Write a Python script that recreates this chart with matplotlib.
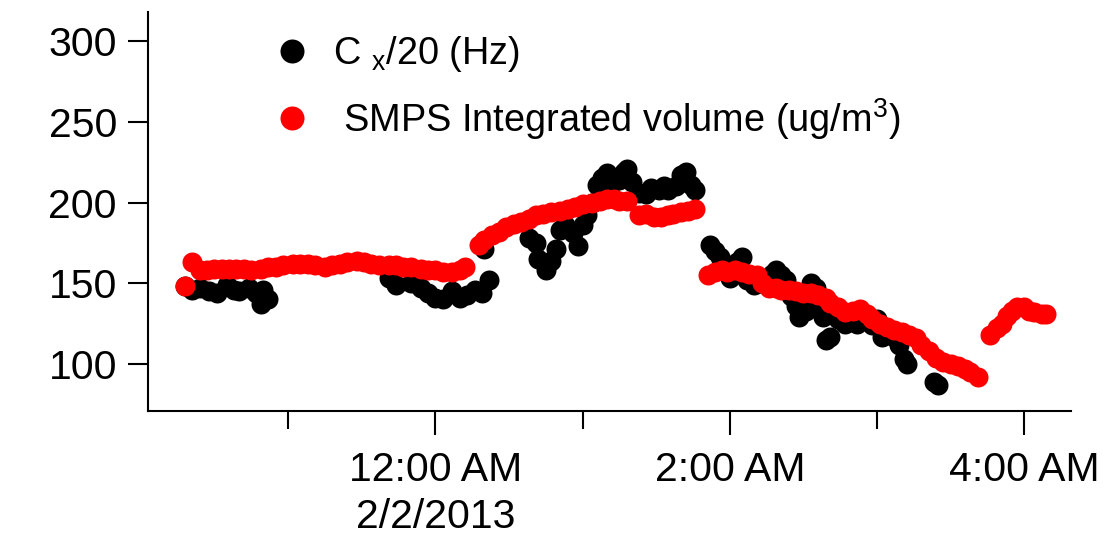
import datetime as dt
import matplotlib
matplotlib.use("Agg")
import matplotlib.pyplot as plt
import matplotlib.dates as mdates
from matplotlib.ticker import FuncFormatter

plt.rcParams["font.family"] = ["Liberation Sans", "DejaVu Sans"]
plt.rcParams["mathtext.fontset"] = "custom"
plt.rcParams["mathtext.rm"] = "Liberation Sans"
plt.rcParams["mathtext.it"] = "Liberation Sans"

# minutes after midnight of 2/2/2013
cx_minutes = [-102, -99, -96, -92, -89, -85, -82, -80, -76, -73, -71, -70, -68,
              -19, -16, -10, -6, -3, 0, 3, 7, 10, 13, 16, 19, 20, 22,
              38, 41, 42, 45, 47, 49, 51, 53, 56, 58, 60, 62, 64, 66, 68, 70,
              72, 75, 77, 78, 80, 83, 86, 88, 91, 93, 95, 98, 100, 102, 104, 106,
              112, 114, 116, 118, 120, 123, 125, 127, 130, 132, 135, 137, 139,
              141, 143, 145, 147, 148, 151, 153, 155, 156, 158, 159, 161, 164,
              167, 170, 172, 175, 178, 180, 182, 185, 187, 189, 191, 192, 203, 205]
cx_values = [148, 146, 147, 145, 144, 149, 146, 145, 147, 144, 137, 146, 140,
             153, 149, 150, 147, 144, 141, 140, 145, 141, 143, 146, 144, 171, 152,
             178, 175, 165, 158, 164, 171, 183, 186, 181, 173, 186, 192, 200, 211, 215, 218,
             212, 214, 219, 221, 213, 206, 205, 209, 208, 210, 208, 210, 217, 219, 211, 208,
             174, 170, 166, 160, 153, 163, 166, 152, 149, 150, 152, 156, 158,
             155, 152, 142, 136, 129, 133, 150, 147, 138, 129, 115, 117, 128,
             125, 129, 125, 127, 124, 128, 117, 121, 117, 112, 103, 100, 89, 87]

smps_minutes = [-102, -99, -96, -93, -90, -87, -84, -81, -78, -75, -71, -68, -65,
                -62, -58, -55, -52, -49, -45, -42, -39, -36, -32, -29, -26, -23,
                -19, -16, -13, -10, -6, -3, 0, 3, 7, 10, 12,
                18, 20, 23, 26, 29, 32, 35, 38, 41, 44, 47, 51, 54, 57, 60, 64,
                67, 70, 73, 75, 78, 83, 86, 89, 92, 95, 97, 100, 103, 106,
                111, 114, 117, 119, 122, 125, 128, 131, 133, 136, 139, 141, 144,
                147, 150, 153, 156, 159, 161, 164, 167, 170, 173, 176, 178, 181,
                184, 187, 190, 193, 196, 198, 201, 204, 207, 210, 213, 216, 218, 221,
                226, 229, 231, 233, 235, 237, 240, 242, 244, 247, 249]
smps_values = [148, 163, 158, 158, 159, 159, 159, 159, 159, 158, 159, 160, 160,
               161, 162, 162, 162, 161, 160, 161, 162, 163, 164, 163, 162, 161,
               161, 161, 160, 160, 159, 158, 158, 157, 157, 158, 160,
               174, 177, 180, 182, 185, 187, 188, 190, 192, 193, 194, 195, 196, 197, 199, 200,
               201, 202, 202, 201, 201, 192, 193, 191, 191, 192, 193, 194, 195, 196,
               155, 157, 158, 157, 158, 157, 156, 155, 150, 147, 147, 146, 146,
               145, 144, 144, 143, 141, 138, 135, 132, 133, 134, 131, 128, 125,
               123, 121, 120, 118, 116, 112, 108, 104, 101, 100, 99, 97, 95, 92,
               118, 122, 125, 130, 133, 135, 135, 133, 132, 131, 131]

base = dt.datetime(2013, 2, 2)


def to_time(mins):
    return [base + dt.timedelta(minutes=m) for m in mins]


fig = plt.figure(figsize=(11.09, 5.35), dpi=100)
ax = fig.add_axes([0.1335, 0.2318, 0.8322, 0.7458])

cx_line, = ax.plot(to_time(cx_minutes), cx_values, "o", color="black",
                   ms=14.4, mew=0, label="C $_x$/20 (Hz)")
smps_line, = ax.plot(to_time(smps_minutes), smps_values, "o", color="#ff0000",
                     ms=14.4, mew=0, label=" SMPS Integrated volume (ug/m$^3$)")

ax.set_xlim(base - dt.timedelta(minutes=117), base + dt.timedelta(minutes=259))
ax.set_ylim(70.9, 318)
ax.set_yticks([100, 150, 200, 250, 300])

ax.xaxis.set_major_locator(mdates.HourLocator(byhour=[0, 2, 4]))
ax.xaxis.set_minor_locator(mdates.HourLocator(byhour=[23, 1, 3]))


def fmt_time(x, pos):
    d = mdates.num2date(x)
    txt = "%d:00 %s" % ((d.hour % 12) or 12, "AM" if d.hour < 12 else "PM")
    if d.hour == 0:
        txt += "\n%d/%d/%d" % (d.month, d.day, d.year)
    return txt


ax.xaxis.set_major_formatter(FuncFormatter(fmt_time))

for s in ["top", "right"]:
    ax.spines[s].set_visible(False)
for s in ["left", "bottom"]:
    ax.spines[s].set_linewidth(1.5)

ax.tick_params(axis="x", which="major", length=17, width=1.5, pad=12, labelsize=29.5)
ax.tick_params(axis="x", which="minor", length=13, width=1.5)
ax.tick_params(axis="y", length=14.4, width=1.5, pad=8, labelsize=29.5)

ax.legend(handles=[cx_line, smps_line], loc="upper left", bbox_to_anchor=(0.14, 0.945),
          frameon=False, fontsize=27.3, handlelength=0.8, handletextpad=0.67,
          labelspacing=0.58, borderaxespad=0, borderpad=0, markerscale=1.2)

fig.canvas.draw()
for lbl in ax.get_xticklabels():
    lbl.set_linespacing(1.3)

fig.savefig("out.png", dpi=100)
